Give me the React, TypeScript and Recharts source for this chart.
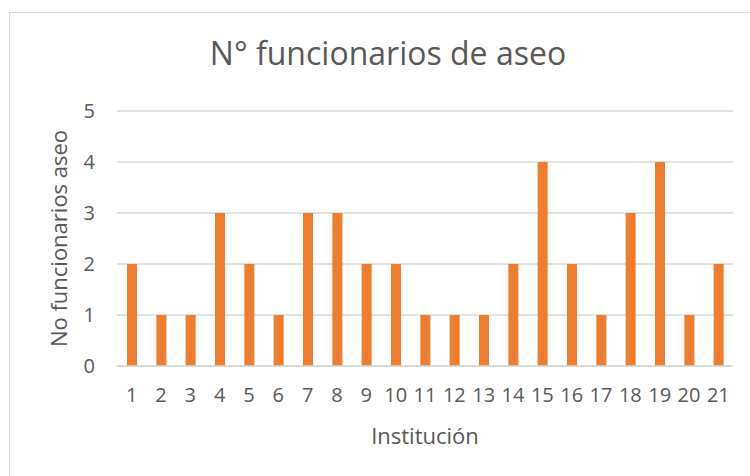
import React from "react";
import { Bar, BarChart, CartesianGrid, XAxis, YAxis } from "recharts";

// institución 1..21
const instituciones = [
	"1", "2", "3", "4", "5", "6", "7", "8", "9", "10", "11",
	"12", "13", "14", "15", "16", "17", "18", "19", "20", "21",
];
const funcionarios = [2, 1, 1, 3, 2, 1, 3, 3, 2, 2, 1, 1, 1, 2, 4, 2, 1, 3, 4, 1, 2];
const yTicks = [0, 1, 2, 3, 4, 5];

const data = instituciones.map((name, i) => ({ name, value: funcionarios[i] }));

const font = "'Open Sans', sans-serif";
const grey = "#595959";

export default function App() {
	return (
		<div
			style={{
				position: "absolute",
				left: 0,
				top: 0,
				width: 750,
				height: 476,
				overflow: "hidden",
				background: "#fff",
				fontFamily: font,
			}}
		>
			<div
				style={{
					position: "absolute",
					left: 9,
					top: 12,
					width: 800,
					height: 500,
					border: "1px solid #d9d9d9",
				}}
			/>
			<svg
				width={750}
				height={476}
				style={{ position: "absolute", left: 0, top: 0 }}
			>
				<text
					x={388}
					y={65}
					textAnchor="middle"
					fill={grey}
					fontSize={32}
					fontFamily={font}
				>
					N° funcionarios de aseo
				</text>
			</svg>
			<div style={{ position: "absolute", left: 0, top: 0 }}>
				<BarChart
					width={750}
					height={476}
					data={data}
					margin={{ top: 111, right: 17, bottom: 20, left: 57 }}
				>
					<CartesianGrid vertical={false} stroke="#d9d9d9" strokeWidth={1.5} />
					<XAxis
						dataKey="name"
						height={90}
						fontSize={20}
						tickLine={false}
						tickSize={0}
						tickMargin={22}
						axisLine={{ stroke: "#d9d9d9", strokeWidth: 1.5 }}
						interval={0}
						tick={{ fill: grey, fontSize: 20, fontFamily: font }}
						label={{
							value: "Institución",
							position: "insideBottom",
							offset: 12,
							fill: grey,
							fontSize: 22,
							fontFamily: font,
						}}
					/>
					<YAxis
						width={60}
						fontSize={20}
						domain={[0, 5]}
						ticks={yTicks}
						tickLine={false}
						tickSize={0}
						tickMargin={22}
						axisLine={false}
						tick={{ fill: grey, fontSize: 20, fontFamily: font }}
						label={{
							value: "No funcionarios aseo",
							angle: -90,
							position: "insideLeft",
							offset: 2,
							fill: grey,
							fontSize: 22,
							fontFamily: font,
							style: { textAnchor: "middle" },
						}}
					/>
					<Bar dataKey="value" fill="#ed7d31" barSize={10} isAnimationActive={false} />
				</BarChart>
			</div>
		</div>
	);
}
